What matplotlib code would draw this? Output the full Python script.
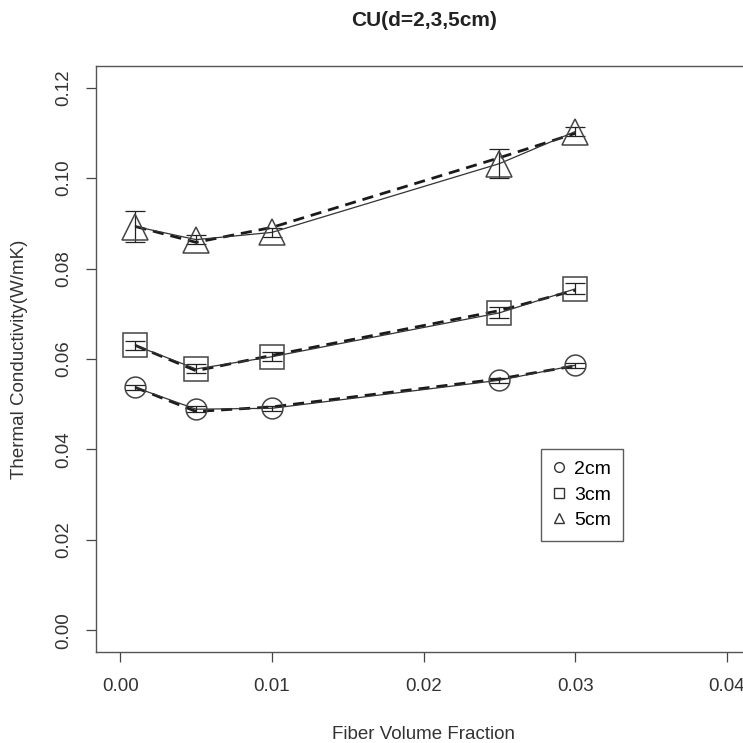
import matplotlib.pyplot as plt

plt.rcParams['font.family'] = ['Liberation Sans', 'DejaVu Sans']

# fiber volume fraction
x = [0.001, 0.005, 0.01, 0.025, 0.03]

# measured means (solid) and model (dashed) per thickness
k2_mean = [0.0537, 0.0489, 0.0491, 0.0553, 0.0586]
k2_fit = [0.0537, 0.0484, 0.0494, 0.0556, 0.0585]
k2_err = [0.0006, 0.0006, 0.0006, 0.0006, 0.0006]

k3_mean = [0.0630, 0.0578, 0.0605, 0.0702, 0.0755]
k3_fit = [0.0630, 0.0574, 0.0608, 0.0707, 0.0752]
k3_err = [0.0010, 0.0010, 0.0010, 0.0012, 0.0012]

k5_mean = [0.0893, 0.0864, 0.0880, 0.1032, 0.1103]
k5_fit = [0.0893, 0.0858, 0.0891, 0.1045, 0.1099]
k5_err = [0.0035, 0.0010, 0.0010, 0.0032, 0.0010]

labels = ['2cm', '3cm', '5cm']
markers = ['o', 's', '^']
xticks = [0.00, 0.01, 0.02, 0.03, 0.04]
yticks = [0.00, 0.02, 0.04, 0.06, 0.08, 0.10, 0.12]

W = 743
fig = plt.figure(figsize=(7.43, 7.43), dpi=100)
ax = fig.add_axes([96 / W, (W - 652) / W, (751 - 96) / W, (652 - 66) / W])

msizes = [15, 17, 19]
series = [(k2_mean, k2_fit, k2_err), (k3_mean, k3_fit, k3_err), (k5_mean, k5_fit, k5_err)]
for (mean, fit, err), m, ms in zip(series, markers, msizes):
    ax.plot(x, fit, ls=(0, (4, 2.5)), color='#1a1a1a', lw=2.0)
    ax.plot(x, mean, ls='-', color='#333333', lw=0.9)
    ax.errorbar(x, mean, yerr=err, fmt='none', ecolor='#222222', elinewidth=0.9, capsize=7, capthick=0.9)
    ax.plot(x, mean, ls='none', marker=m, ms=ms, mfc='none', mec='#444444', mew=1.1)

ax.set_xlim(-0.0016, 0.0416)
ax.set_ylim(-0.0048, 0.1248)
ax.set_xticks(xticks)
ax.set_xticklabels([f'{v:.2f}' for v in xticks])
ax.set_yticks(yticks)
ax.set_yticklabels([f'{v:.2f}' for v in yticks], rotation=90, va='center')
ax.tick_params(direction='out', length=7, width=0.9, color='#444444', labelcolor='#333333',
               labelsize=13.5)
ax.tick_params(axis='x', pad=12)
ax.tick_params(axis='y', pad=10)
for s in ax.spines.values():
    s.set_color('#555555')
    s.set_linewidth(1.0)

ax.set_xlabel('Fiber Volume Fraction', fontsize=13.5, color='#333333', labelpad=22)
ax.set_ylabel('Thermal Conductivity(W/mK)', fontsize=13.5, color='#333333', labelpad=20)
fig.text(424 / W, 1 - 20 / W, 'CU(d=2,3,5cm)', ha='center', va='center',
         fontsize=15, fontweight='bold', color='#222222')

handles = [plt.Line2D([], [], ls='none', marker=m, ms=7, mfc='none', mec='#333333', mew=1.0)
           for m in markers]
leg = ax.legend(handles, labels, loc='upper left', bbox_to_anchor=((541 - 96) / 655, (652 - 449) / 586),
                frameon=True, fancybox=False, edgecolor='#333333', fontsize=14,
                handlelength=0.6, handletextpad=0.5, borderpad=0.6, labelspacing=0.4,
                borderaxespad=0)
leg.get_frame().set_linewidth(1.0)

fig.savefig('out.png', dpi=100)
